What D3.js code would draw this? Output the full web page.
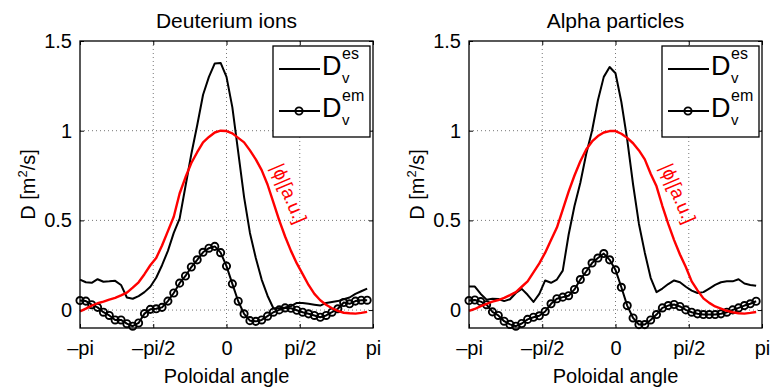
<!DOCTYPE html>
<html>
<head>
<meta charset="utf-8">
<script src="https://cdn.jsdelivr.net/npm/d3@7"></script>
<style>
  html, body { margin: 0; padding: 0; background: #fff; }
  svg text { font-family: "Liberation Sans", Arial, Helvetica, sans-serif; fill: #000; }
</style>
</head>
<body>
<svg id="chart" width="770" height="389"></svg>
<script>
// Poloidal profiles of the diffusion coefficients, 50 samples over [-pi, pi)
const nSamples = 50;

const panelTitles = ["Deuterium ions", "Alpha particles"];

const deuteriumEs = [0.17,0.155,0.152,0.172,0.158,0.16,0.163,0.14,0.07,0.063,
  0.078,0.1,0.13,0.18,0.25,0.33,0.43,0.51,0.69,0.87,
  1.03,1.2,1.3,1.375,1.378,1.3,1.13,0.88,0.63,0.43,
  0.29,0.17,0.08,0.01,0.01,0.015,0.022,0.04,0.04,0.035,
  0.03,0.025,0.04,0.045,0.05,0.06,0.07,0.09,0.105,0.12];
const deuteriumEm = [0.053,0.05,0.03,0.015,-0.012,-0.03,-0.055,-0.055,-0.076,-0.09,
  -0.072,-0.02,0.004,0.007,0.015,0.05,0.095,0.15,0.19,0.24,
  0.28,0.322,0.345,0.355,0.32,0.245,0.146,0.049,-0.021,-0.059,
  -0.063,-0.055,-0.034,-0.012,0.001,0.012,0.01,-0.001,-0.012,-0.021,
  -0.03,-0.04,-0.03,-0.012,0.007,0.042,0.035,0.05,0.055,0.055];
const deuteriumPhi = [-0.007,0.008,0.025,0.038,0.047,0.058,0.068,0.082,0.097,0.125,
  0.155,0.2,0.25,0.29,0.36,0.44,0.52,0.65,0.74,0.82,
  0.88,0.935,0.965,0.99,1.0,0.998,0.985,0.96,0.935,0.89,
  0.84,0.78,0.70,0.6,0.5,0.41,0.33,0.26,0.2,0.14,
  0.09,0.055,0.03,0.01,-0.005,-0.015,-0.018,-0.02,-0.016,-0.01];

const alphaEs = [0.131,0.131,0.09,0.058,0.063,0.062,0.05,0.06,0.095,0.118,
  0.085,0.045,0.09,0.165,0.152,0.17,0.22,0.42,0.58,0.71,
  0.87,1.0,1.17,1.3,1.355,1.32,1.16,0.95,0.7,0.48,
  0.32,0.18,0.1,0.12,0.145,0.165,0.155,0.13,0.108,0.095,
  0.1,0.12,0.14,0.155,0.16,0.16,0.172,0.148,0.14,0.135];
const alphaEm = [0.053,0.056,0.047,0.03,-0.01,-0.03,-0.062,-0.08,-0.09,-0.075,
  -0.052,-0.04,-0.032,-0.008,0.035,0.063,0.072,0.08,0.115,0.17,
  0.215,0.262,0.29,0.315,0.28,0.224,0.127,0.025,-0.044,-0.081,
  -0.081,-0.055,-0.025,0.012,0.025,0.031,0.02,0.001,-0.012,-0.021,
  -0.025,-0.025,-0.025,-0.021,-0.012,0.001,0.012,0.025,0.035,0.049];
const alphaPhi = [-0.005,0.006,0.022,0.035,0.047,0.056,0.068,0.083,0.1,0.13,
  0.16,0.21,0.26,0.32,0.39,0.46,0.56,0.66,0.75,0.83,
  0.895,0.94,0.97,0.99,0.998,0.998,0.983,0.96,0.93,0.89,
  0.84,0.76,0.69,0.58,0.48,0.39,0.31,0.24,0.16,0.11,
  0.065,0.04,0.02,0.008,-0.004,-0.012,-0.018,-0.02,-0.016,-0.011];

const xTickValues = [-Math.PI, -Math.PI / 2, 0, Math.PI / 2, Math.PI];
const xTickLabels = ["\u2013pi", "\u2013pi/2", "0", "pi/2", "pi"];
const yTickValues = [0, 0.5, 1, 1.5];
const yTickLabels = ["0", "0.5", "1", "1.5"];
const xGridValues = [-Math.PI / 2, 0, Math.PI / 2];
const yGridValues = [0, 0.5, 1];

const panelData = [
  { es: deuteriumEs, em: deuteriumEm, phi: deuteriumPhi },
  { es: alphaEs, em: alphaEm, phi: alphaPhi }
];

const theta = d3.range(nSamples).map(k => -Math.PI + k * 2 * Math.PI / nSamples);

const svg = d3.select("#chart");
const plotTop = 41, plotBottom = 328;
const panels = [{ left: 80, right: 373 }, { left: 469, right: 762 }];

panels.forEach((p, i) => {
  const d = panelData[i];
  const x = d3.scaleLinear().domain([-Math.PI, Math.PI]).range([p.left, p.right]);
  const y = d3.scaleLinear().domain([-0.1, 1.5]).range([plotBottom, plotTop]);
  const g = svg.append("g");

  // dotted grid
  g.selectAll(".gx").data(xGridValues).enter().append("line")
    .attr("x1", v => x(v)).attr("x2", v => x(v))
    .attr("y1", plotTop).attr("y2", plotBottom)
    .attr("stroke", "#666").attr("stroke-width", 0.9).attr("stroke-dasharray", "1,3");
  g.selectAll(".gy").data(yGridValues).enter().append("line")
    .attr("x1", p.left).attr("x2", p.right)
    .attr("y1", v => y(v)).attr("y2", v => y(v))
    .attr("stroke", "#666").attr("stroke-width", 0.9).attr("stroke-dasharray", "1,3");

  // axes with inward ticks
  const ax = g.append("g").attr("transform", `translate(0,${plotBottom})`)
    .call(d3.axisBottom(x).tickValues(xTickValues)
      .tickFormat((v, j) => xTickLabels[j]).tickSize(-4).tickPadding(13));
  ax.select(".domain").remove();
  ax.selectAll("text").attr("font-size", 20);

  const axT = g.append("g").attr("transform", `translate(0,${plotTop})`)
    .call(d3.axisTop(x).tickValues(xTickValues).tickFormat("").tickSize(-4));
  axT.select(".domain").remove();

  const ay = g.append("g").attr("transform", `translate(${p.left},0)`)
    .call(d3.axisLeft(y).tickValues(yTickValues)
      .tickFormat((v, j) => yTickLabels[j]).tickSize(-4).tickPadding(8));
  ay.select(".domain").remove();
  ay.selectAll("text").attr("font-size", 20);

  const ayR = g.append("g").attr("transform", `translate(${p.right},0)`)
    .call(d3.axisRight(y).tickValues(yTickValues).tickFormat("").tickSize(-4));
  ayR.select(".domain").remove();

  g.selectAll(".tick line").attr("stroke", "#000");
  g.selectAll(".tick text").attr("font-family", "'Liberation Sans', Arial, sans-serif");

  // series
  const pts = arr => arr.map((v, k) => [theta[k], v]);
  const line = d3.line().x(q => x(q[0])).y(q => y(q[1]));

  g.append("path").attr("d", line(pts(d.es)))
    .attr("fill", "none").attr("stroke", "#000").attr("stroke-width", 2)
    .attr("stroke-linejoin", "round");

  g.append("path").attr("d", line(pts(d.em)))
    .attr("fill", "none").attr("stroke", "#000").attr("stroke-width", 2)
    .attr("stroke-linejoin", "round");
  g.selectAll(".mk").data(pts(d.em)).enter().append("circle")
    .attr("cx", q => x(q[0])).attr("cy", q => y(q[1])).attr("r", 3.6)
    .attr("fill", "none").attr("stroke", "#000").attr("stroke-width", 1.9);

  g.append("path").attr("d", line(pts(d.phi)))
    .attr("fill", "none").attr("stroke", "#ff0000").attr("stroke-width", 2.4)
    .attr("stroke-linejoin", "round");

  // frame
  g.append("rect").attr("x", p.left).attr("y", plotTop)
    .attr("width", p.right - p.left).attr("height", plotBottom - plotTop)
    .attr("fill", "none").attr("stroke", "#000").attr("stroke-width", 1.3);

  // potential label along the red curve
  g.append("text").text("|\u03d5|[a.u.]")
    .attr("transform", `translate(${p.right - 90},${196}) rotate(67)`)
    .attr("text-anchor", "middle").attr("font-size", 19)
    .style("fill", "#ff0000");

  // legend
  const lg = g.append("g");
  lg.append("rect").attr("x", p.right - 100).attr("y", 46)
    .attr("width", 97).attr("height", 91)
    .attr("fill", "#fff").attr("stroke", "#000").attr("stroke-width", 1.3);
  [{ y: 69, sup: "es", marker: false }, { y: 111, sup: "em", marker: true }].forEach(e => {
    lg.append("line").attr("x1", p.right - 94).attr("x2", p.right - 53)
      .attr("y1", e.y).attr("y2", e.y)
      .attr("stroke", "#000").attr("stroke-width", 2);
    if (e.marker) {
      lg.append("circle").attr("cx", p.right - 74).attr("cy", e.y).attr("r", 3.6)
        .attr("fill", "none").attr("stroke", "#000").attr("stroke-width", 1.9);
    }
    lg.append("text").text("D").attr("x", p.right - 51).attr("y", e.y + 6)
      .attr("font-size", 27);
    lg.append("text").text(e.sup).attr("x", p.right - 31).attr("y", e.y - 10)
      .attr("font-size", 16);
    lg.append("text").text("v").attr("x", p.right - 31).attr("y", e.y + 14)
      .attr("font-size", 15);
  });

  // titles and axis labels
  svg.append("text").text(panelTitles[i])
    .attr("x", (p.left + p.right) / 2).attr("y", 28)
    .attr("text-anchor", "middle").attr("font-size", 21);
  svg.append("text").text("Poloidal angle")
    .attr("x", (p.left + p.right) / 2).attr("y", 383)
    .attr("text-anchor", "middle").attr("font-size", 20);
  const yl = svg.append("text")
    .attr("transform", `translate(${p.left - 45},${(plotTop + plotBottom) / 2}) rotate(-90)`)
    .attr("text-anchor", "middle").attr("font-size", 20);
  yl.append("tspan").text("D [m");
  yl.append("tspan").text("2").attr("font-size", 13).attr("dy", -8);
  yl.append("tspan").text("/s]").attr("dy", 8);
});
</script>
</body>
</html>
